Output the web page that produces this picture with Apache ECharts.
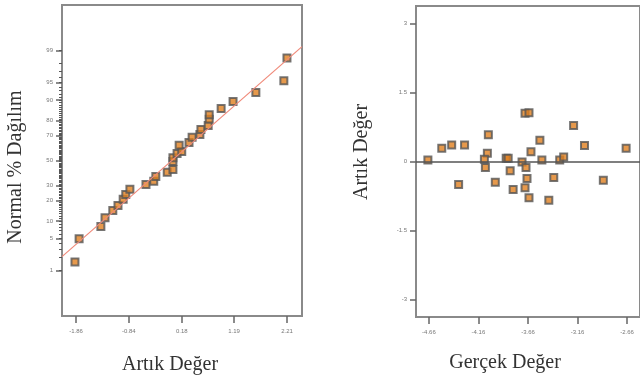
<!DOCTYPE html>
<html>
<head>
<meta charset="utf-8">
<script src="https://cdn.jsdelivr.net/npm/echarts@6/dist/echarts.min.js"></script>
<style>
  html, body { margin: 0; padding: 0; background: #fff; }
  #main { width: 640px; height: 381px; }
</style>
</head>
<body>
<div id="main"></div>
<script>
// normal probability plot (left)
var residX = [-1.88, -1.80, -1.38, -1.30, -1.15, -1.05, -0.95, -0.90, -0.82, -0.51, -0.36,
  -0.32, -0.10, 0.01, 0.01, 0.01, 0.09, 0.18, 0.13, 0.32, 0.38, 0.53, 0.55, 0.69, 0.71,
  0.71, 0.94, 1.17, 1.61, 2.15, 2.21];
var normPct = [1.6, 4.9, 8.1, 11.3, 14.5, 17.1, 20.6, 23.6, 27.1, 30.5, 33.0,
  36.7, 40.1, 42.5, 49.2, 52.4, 56.0, 57.5, 62.6, 64.8, 68.8, 70.9, 74.5, 77.0, 80.8,
  83.4, 86.4, 89.4, 92.5, 95.4, 98.5];
var fitX = [-2.13, 2.50];
var fitPct = [2.1, 99.2];
var residTicks = [-1.86, -0.84, 0.18, 1.19, 2.21];
var probTicks = [1, 5, 10, 20, 30, 50, 70, 80, 90, 95, 99];

// residual vs actual (right)
var actualX = [-4.67, -4.53, -4.43, -4.30, -4.36, -4.06, -4.07, -4.10, -4.09, -3.99, -3.88,
  -3.86, -3.84, -3.81, -3.72, -3.69, -3.65, -3.68, -3.69, -3.67, -3.65, -3.63, -3.54,
  -3.52, -3.45, -3.40, -3.34, -3.30, -3.20, -3.09, -2.90, -2.67];
var residY = [0.03, 0.29, 0.36, 0.36, -0.50, 0.58, 0.18, 0.05, -0.13, -0.45, 0.07,
  0.07, -0.20, -0.61, -0.01, 1.05, 1.06, -0.13, -0.57, -0.37, -0.79, 0.21, 0.46,
  0.03, -0.84, -0.35, 0.03, 0.10, 0.78, 0.35, -0.41, 0.29];
var actualTicks = [-4.66, -4.16, -3.66, -3.16, -2.66];
var residYTicks = [-3, -1.5, 0, 1.5, 3];

// percent -> z (normal quantile)
function probit(pct) {
  var p = pct / 100;
  var q = p < 0.5 ? p : 1 - p;
  var t = Math.sqrt(-2 * Math.log(q));
  var z = t - (2.515517 + 0.802853 * t + 0.010328 * t * t) /
    (1 + 1.432788 * t + 0.189269 * t * t + 0.001308 * t * t * t);
  return p < 0.5 ? -z : z;
}

var minorPct = [];
for (var i = 1; i <= 99; i++) minorPct.push(i);

var axisGrey = '#8a8a8a';
var labelStyle = { color: '#777', fontSize: 6, fontFamily: 'Liberation Sans' };
var markerStyle = { color: '#e0801f', borderColor: '#555', borderWidth: 2 };
var titleFont = '20px "Liberation Serif"';

var chart = echarts.init(document.getElementById('main'));
var option = {
  animation: false,
  grid: [
    { left: 62, top: 5, width: 240, height: 311, show: true, borderColor: axisGrey, borderWidth: 2 },
    { left: 416, top: 6, right: -13, height: 311, show: true, borderColor: axisGrey, borderWidth: 2 }
  ],
  xAxis: [
    {
      gridIndex: 0, type: 'value', min: -2.13, max: 2.50,
      axisLine: { onZero: false, lineStyle: { color: axisGrey, width: 2 } },
      axisTick: { customValues: residTicks, length: 7, lineStyle: { color: '#666', width: 1.5 } },
      axisLabel: Object.assign({ customValues: residTicks, margin: 12,
        formatter: function (v) { return v.toFixed(2); } }, labelStyle),
      splitLine: { show: false }
    },
    {
      gridIndex: 1, type: 'value', min: -4.79, max: -2.53,
      axisLine: { onZero: false, lineStyle: { color: axisGrey, width: 2 } },
      axisTick: { customValues: actualTicks, length: 7, lineStyle: { color: '#666', width: 1.5 } },
      axisLabel: Object.assign({ customValues: actualTicks, margin: 12,
        formatter: function (v) { return v.toFixed(2); } }, labelStyle),
      splitLine: { show: false }
    }
  ],
  yAxis: [
    {
      gridIndex: 0, type: 'value', min: -3.29, max: 3.29,
      axisLine: { show: true, onZero: false, lineStyle: { color: axisGrey, width: 2 } },
      axisTick: { customValues: probTicks.map(probit), length: 6, lineStyle: { color: '#666', width: 1.5 } },
      axisLabel: Object.assign({ customValues: probTicks.map(probit), margin: 9,
        formatter: function (v) {
          for (var k = 0; k < probTicks.length; k++) {
            if (Math.abs(probit(probTicks[k]) - v) < 1e-6) return String(probTicks[k]);
          }
          return '';
        } }, labelStyle),
      splitLine: { show: false }
    },
    {
      gridIndex: 0, type: 'value', min: -3.29, max: 3.29, position: 'left',
      axisLine: { show: false, onZero: false },
      axisTick: { customValues: minorPct.map(probit), length: 3, lineStyle: { color: '#555', width: 1 } },
      axisLabel: { show: false },
      splitLine: { show: false }
    },
    {
      gridIndex: 1, type: 'value', min: -3.38, max: 3.38,
      axisLine: { show: true, onZero: false, lineStyle: { color: axisGrey, width: 2 } },
      axisTick: { customValues: residYTicks, length: 6, lineStyle: { color: '#666', width: 1.5 } },
      axisLabel: Object.assign({ customValues: residYTicks, margin: 9,
        formatter: function (v) { return String(v); } }, labelStyle),
      splitLine: { show: false }
    }
  ],
  graphic: [
    { type: 'text', x: 170, y: 365,
      style: { text: 'Artık Değer', font: titleFont, fill: '#333', align: 'center', verticalAlign: 'middle' } },
    { type: 'text', x: 16, y: 167, rotation: Math.PI / 2,
      style: { text: 'Normal % Dağılım', font: titleFont, fill: '#333', align: 'center', verticalAlign: 'middle' } },
    { type: 'text', x: 505, y: 363,
      style: { text: 'Gerçek Değer', font: titleFont, fill: '#333', align: 'center', verticalAlign: 'middle' } },
    { type: 'text', x: 362, y: 152, rotation: Math.PI / 2,
      style: { text: 'Artık Değer', font: titleFont, fill: '#333', align: 'center', verticalAlign: 'middle' } }
  ],
  series: [
    {
      type: 'line', xAxisIndex: 0, yAxisIndex: 0, symbol: 'none', silent: true, clip: true,
      lineStyle: { color: '#f08a7a', width: 1.2 },
      data: fitX.map(function (x, k) { return [x, probit(fitPct[k])]; })
    },
    {
      type: 'scatter', xAxisIndex: 0, yAxisIndex: 0, symbol: 'rect', symbolSize: 7,
      itemStyle: markerStyle,
      data: residX.map(function (x, k) { return [x, probit(normPct[k])]; })
    },
    {
      type: 'scatter', xAxisIndex: 1, yAxisIndex: 2, symbol: 'rect', symbolSize: 7,
      itemStyle: markerStyle,
      data: actualX.map(function (x, k) { return [x, residY[k]]; }),
      markLine: {
        silent: true, symbol: 'none', label: { show: false },
        lineStyle: { color: '#555', width: 1.5, type: 'solid' },
        data: [{ yAxis: 0 }]
      }
    }
  ]
};
chart.setOption(option);
</script>
</body>
</html>
